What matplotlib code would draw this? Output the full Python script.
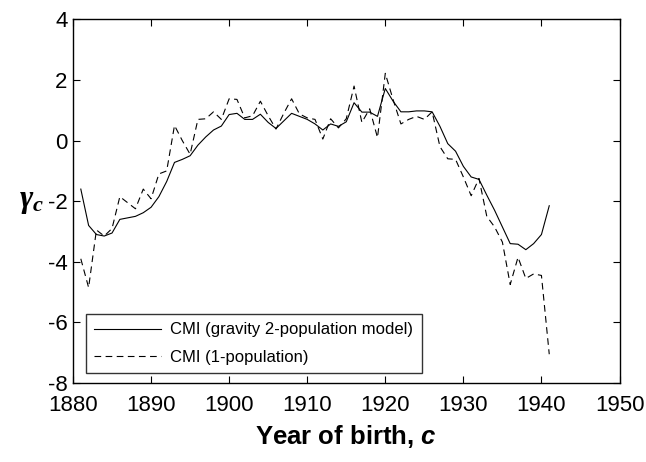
import numpy as np, matplotlib
matplotlib.use("Agg")
import matplotlib.pyplot as plt

plt.rcParams.update({"font.family": ["Liberation Sans", "DejaVu Sans"],
                     "axes.unicode_minus": False,
                     "mathtext.fontset": "custom",
                     "mathtext.it": "Liberation Serif:bold:italic",
                     "mathtext.bfit": "Liberation Sans:bold:italic"})

years = np.arange(1881, 1942)
cmi_gravity = [-1.6, -2.8, -3.1, -3.15, -3.05, -2.6, -2.55, -2.5, -2.38, -2.2,
               -1.85, -1.35, -0.72, -0.62, -0.5, -0.15, 0.12, 0.35, 0.48, 0.86,
               0.9, 0.7, 0.7, 0.87, 0.6, 0.4, 0.65, 0.9, 0.8, 0.7,
               0.55, 0.35, 0.55, 0.47, 0.62, 1.25, 0.94, 0.94, 0.8, 1.72,
               1.3, 0.95, 0.95, 0.98, 0.98, 0.95, 0.47, -0.1, -0.35, -0.85,
               -1.2, -1.28, -1.8, -2.3, -2.85, -3.4, -3.42, -3.6, -3.4, -3.1,
               -2.15]
cmi_1pop = [-3.9, -4.85, -2.95, -3.15, -2.9, -1.85, -2.05, -2.25, -1.6, -1.92,
            -1.1, -1.0, 0.5, 0.0, -0.45, 0.7, 0.72, 0.95, 0.7, 1.38,
            1.36, 0.75, 0.82, 1.3, 0.82, 0.38, 0.9, 1.38, 0.88, 0.75,
            0.7, 0.05, 0.72, 0.42, 0.72, 1.8, 0.6, 1.05, 0.1, 2.22,
            1.35, 0.55, 0.7, 0.8, 0.7, 0.95, -0.2, -0.6, -0.62, -1.2,
            -1.82, -1.25, -2.5, -2.85, -3.35, -4.75, -3.85, -4.55, -4.4, -4.45,
            -7.05]

fig = plt.figure(figsize=(6.46, 4.62), dpi=100)
ax = fig.add_axes([0.113, 0.171, 0.846, 0.787])
ax.plot(years, cmi_gravity, color="black", lw=0.8, label="CMI (gravity 2-population model)")
ax.plot(years, cmi_1pop, color="black", lw=0.8, ls=(0, (6, 4)), label="CMI (1-population)")
ax.set_xlim(1880, 1950); ax.set_ylim(-8, 4)
ax.set_xticks(range(1880, 1951, 10)); ax.set_yticks(range(-8, 5, 2))
ax.tick_params(direction="in", length=5, width=0.8, labelsize=16, top=True, right=True)
ax.tick_params(axis="x", pad=9); ax.tick_params(axis="y", pad=4)
for s in ax.spines.values(): s.set_linewidth(1.0)
ax.set_xlabel(r"Year of birth, $\mathbfit{c}$", fontsize=18.5, fontweight="bold", labelpad=5)
ax.set_ylabel(r"$\mathit{\gamma}_{\mathit{c}}$", fontsize=23, rotation=0, labelpad=12, va="center")
leg = ax.legend(loc="lower left", bbox_to_anchor=(0.024, 0.027), borderaxespad=0, fontsize=12,
                frameon=True, fancybox=False, edgecolor="black", handlelength=4.0, handletextpad=0.55,
                labelspacing=0.75, borderpad=0.5)
leg.get_frame().set_linewidth(1.0)
fig.savefig("out.png", dpi=100)
